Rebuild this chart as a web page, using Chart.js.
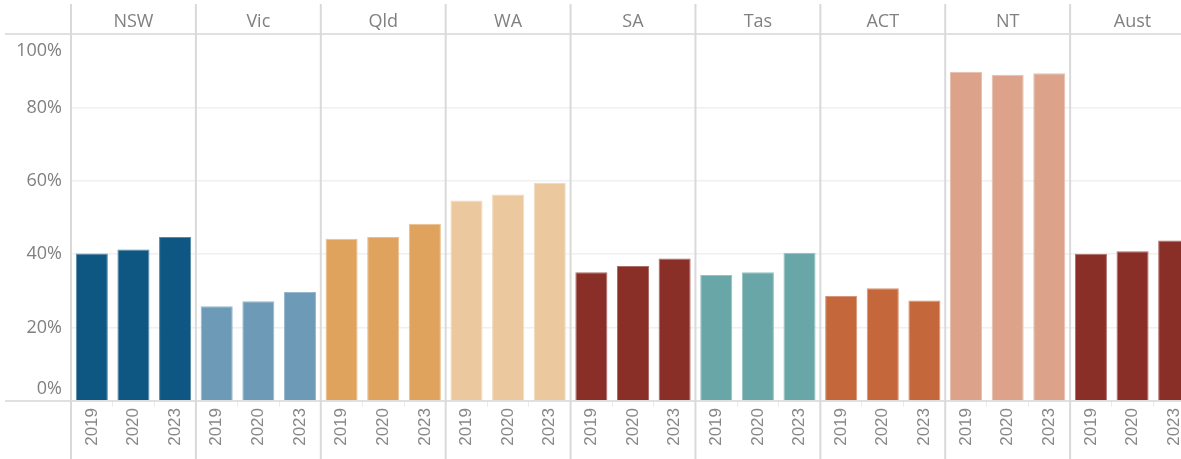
<!DOCTYPE html>
<html>
<head>
<meta charset="utf-8">
<script src="https://cdn.jsdelivr.net/npm/chart.js@4"></script>
<style>
  html, body { margin: 0; padding: 0; background: #fff; overflow: hidden; }
  #wrap { position: relative; width: 1196px; height: 459px; }
</style>
</head>
<body>
<div id="wrap"><canvas id="chart"></canvas></div>
<script>
const regions = ['NSW', 'Vic', 'Qld', 'WA', 'SA', 'Tas', 'ACT', 'NT', 'Aust'];
const years = ['2019', '2020', '2023'];

// share (%) per region
const share2019 = [40.2, 25.8, 44.2, 54.6, 35.1, 34.3, 28.6, 89.7, 40.1];
const share2020 = [41.3, 27.2, 44.7, 56.3, 36.8, 35.1, 30.7, 88.9, 40.8];
const share2023 = [44.7, 29.7, 48.3, 59.5, 38.8, 40.4, 27.4, 89.3, 43.7];

const regionColors = ['#0f5783', '#6d9ab7', '#dfa35d', '#ecc89e', '#8a2f27', '#68a6a8', '#c4673b', '#dca38a', '#8a2f27'];
const yTicks = [0, 20, 40, 60, 80, 100];

const grey = '#808080';

// one bar per region/year, grouped region by region
const labels = regions.flatMap(() => years);
const values = regions.flatMap((r, i) => [share2019[i], share2020[i], share2023[i]]);
const barColors = regions.flatMap((r, i) => years.map(() => regionColors[i]));

function lighten(hex, amt) {
  const n = parseInt(hex.slice(1), 16);
  const mix = c => Math.round(c + (255 - c) * amt);
  return `rgb(${mix(n >> 16)}, ${mix((n >> 8) & 255)}, ${mix(n & 255)})`;
}

const panelDecor = {
  id: 'panelDecor',
  afterDraw(chart) {
    const { ctx, chartArea: a, scales: { x, y } } = chart;
    ctx.save();

    // header rule and baseline
    ctx.strokeStyle = '#d6d6d6';
    ctx.lineWidth = 1.5;
    const base = y.getPixelForValue(0);
    [a.top, base].forEach(py => {
      ctx.beginPath();
      ctx.moveTo(5, py);
      ctx.lineTo(chart.width, py);
      ctx.stroke();
    });

    // panel separators
    const bounds = [a.left];
    for (let k = 1; k < regions.length; k++) {
      bounds.push((x.getPixelForValue(3 * k - 1) + x.getPixelForValue(3 * k)) / 2);
    }
    bounds.push(a.right);
    ctx.strokeStyle = '#d9d9d9';
    ctx.lineWidth = 2;
    bounds.forEach(bx => {
      ctx.beginPath();
      ctx.moveTo(bx, 4);
      ctx.lineTo(bx, chart.height);
      ctx.stroke();
    });

    // region headers
    ctx.fillStyle = grey;
    ctx.font = '18px "Open Sans"';
    ctx.textAlign = 'center';
    ctx.textBaseline = 'middle';
    regions.forEach((r, i) => {
      ctx.fillText(r, (bounds[i] + bounds[i + 1]) / 2, a.top / 2 + 5);
    });

    // y tick labels, kept inside the pane like the original
    ctx.textAlign = 'right';
    yTicks.forEach(v => {
      let py = y.getPixelForValue(v);
      py = Math.min(Math.max(py, a.top + 17), base - 12);
      ctx.fillText(v + '%', a.left - 9, py);
    });

    ctx.restore();
  }
};

new Chart(document.getElementById('chart'), {
  type: 'bar',
  data: {
    labels: labels,
    datasets: [{
      data: values,
      backgroundColor: barColors,
      borderColor: barColors.map(c => lighten(c, 0.3)),
      borderWidth: 1,
      borderSkipped: 'bottom',
      categoryPercentage: 1,
      barPercentage: 0.77
    }]
  },
  options: {
    responsive: true,
    maintainAspectRatio: false,
    animation: false,
    layout: { padding: { top: 34, right: 1, left: 0, bottom: 0 } },
    plugins: { legend: { display: false }, tooltip: { enabled: false } },
    scales: {
      x: {
        border: { display: false },
        grid: {
          offset: true,
          drawOnChartArea: false,
          drawTicks: true,
          tickLength: 6,
          color: '#ececec'
        },
        ticks: {
          autoSkip: false,
          minRotation: 90,
          maxRotation: 90,
          padding: 1,
          color: '#888888',
          font: { family: '"Liberation Sans", Arial, sans-serif', size: 17 }
        },
        afterFit(s) {
          s.height = 58;
          s.paddingLeft = 0;
          s.paddingRight = 0;
        }
      },
      y: {
        min: 0,
        max: 100,
        border: { display: false },
        ticks: { display: false, stepSize: 20 },
        grid: {
          drawTicks: false,
          color: ctx => (ctx.tick.value === 0 || ctx.tick.value === 100) ? 'rgba(0,0,0,0)' : '#f0f0f0',
          lineWidth: 1.5
        },
        afterFit(s) {
          s.width = 71;
        }
      }
    }
  },
  plugins: [panelDecor]
});
</script>
</body>
</html>
